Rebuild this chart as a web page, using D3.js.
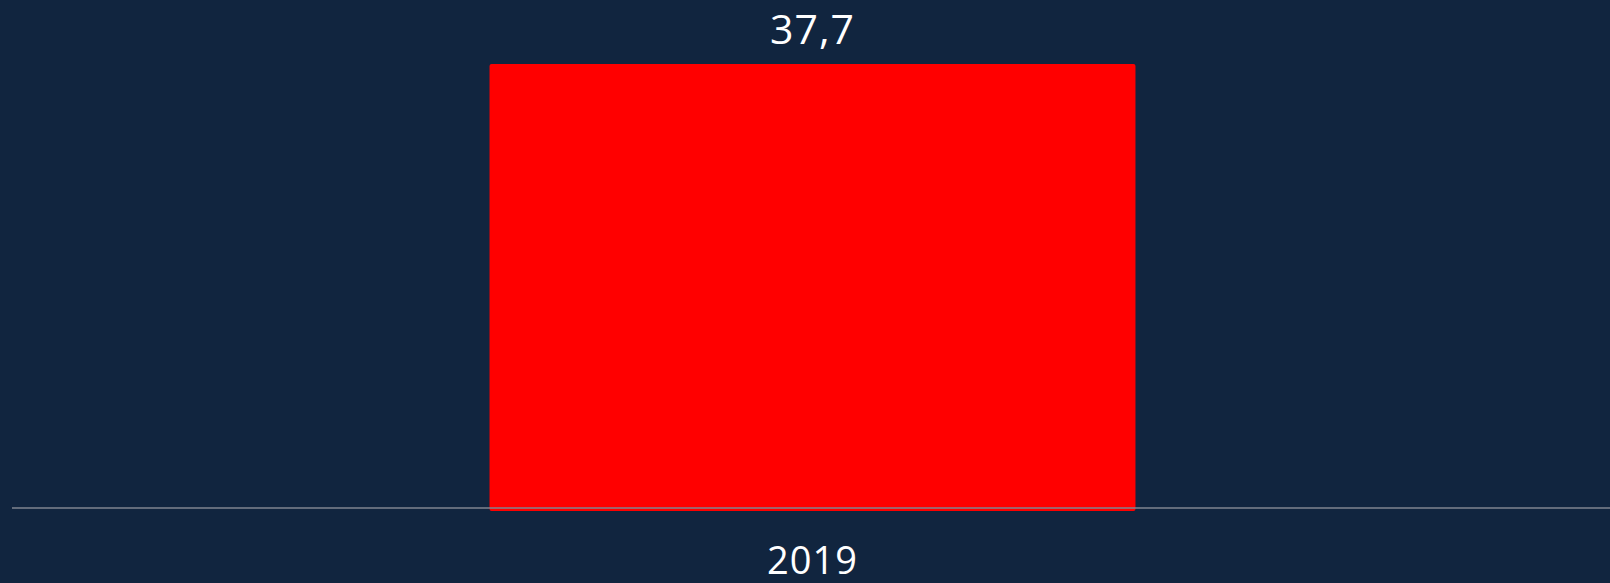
<!DOCTYPE html>
<html>
<head>
<meta charset="utf-8">
<script src="https://cdn.jsdelivr.net/npm/d3@7"></script>
<style>
  html, body { margin: 0; padding: 0; background: #11253f; }
  svg { display: block; }
</style>
</head>
<body>
<svg width="1610" height="583"></svg>
<script>
var years = ['2019'];
var values = [37.7];

var svg = d3.select('svg'),
  w = +svg.attr('width'),
  h = +svg.attr('height');

var x = d3.scaleBand().domain(years).range([15, w]).padding(0.4235);
var y = d3.scaleLinear().domain([0, 37.7]).range([508, 64]);

var fmt = function(d) { return d3.format('.1f')(d).replace('.', ','); };

// bars (slightly overhang the baseline, like the original)
svg.selectAll('rect.bar')
  .data(values)
  .enter().append('rect')
  .attr('class', 'bar')
  .attr('x', function(d, i) { return x(years[i]); })
  .attr('y', function(d) { return y(d); })
  .attr('width', x.bandwidth())
  .attr('height', function(d) { return y(0) - y(d) + 3; })
  .attr('rx', 2)
  .attr('fill', '#ff0000');

// baseline
svg.append('line')
  .attr('x1', 12).attr('x2', w)
  .attr('y1', y(0)).attr('y2', y(0))
  .attr('stroke', '#7f8590')
  .attr('stroke-width', 1.5);

// value labels
svg.selectAll('text.val')
  .data(values)
  .enter().append('text')
  .attr('class', 'val')
  .attr('x', function(d, i) { return x(years[i]) + x.bandwidth() / 2; })
  .attr('y', function(d) { return y(d) - 20; })
  .attr('text-anchor', 'middle')
  .attr('fill', '#ffffff')
  .style('font-family', '"Open Sans", sans-serif')
  .style('font-size', '41px')
  .style('letter-spacing', '1px')
  .text(fmt);

// category labels
svg.selectAll('text.cat')
  .data(years)
  .enter().append('text')
  .attr('class', 'cat')
  .attr('x', function(d) { return x(d) + x.bandwidth() / 2; })
  .attr('y', 574)
  .attr('text-anchor', 'middle')
  .attr('fill', '#ffffff')
  .style('font-family', '"Open Sans", sans-serif')
  .style('font-size', '38px')
  .style('letter-spacing', '1px')
  .text(function(d) { return d; });
</script>
</body>
</html>
